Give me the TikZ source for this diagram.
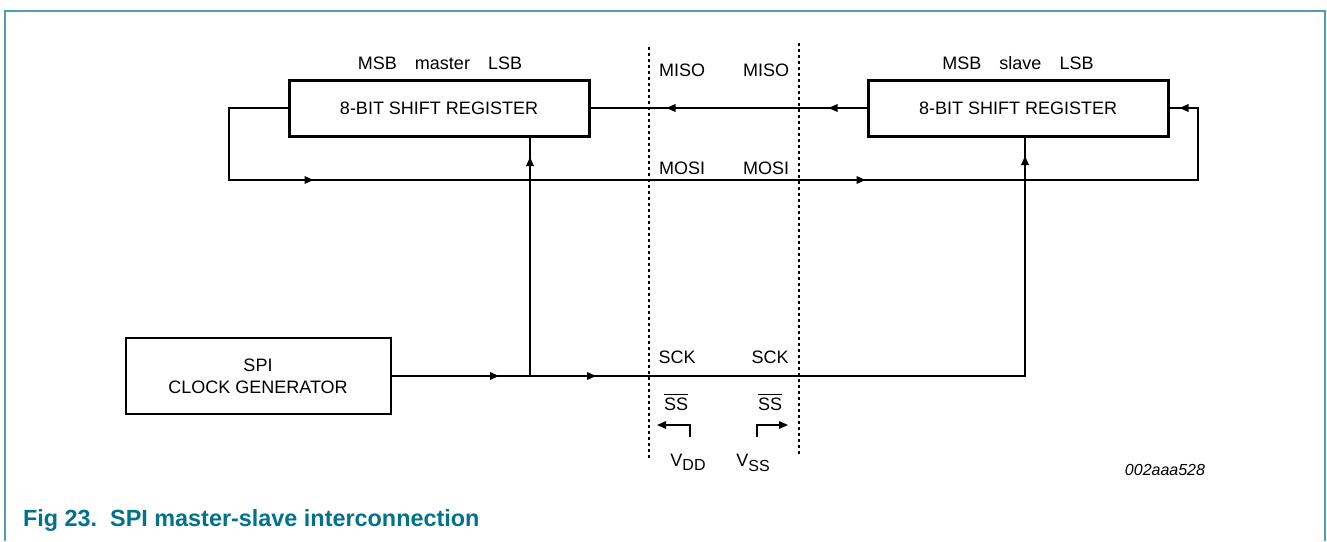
\documentclass[tikz,border=0pt]{standalone}
\usepackage{fontspec}
\setmainfont{Liberation Sans}
\usetikzlibrary{arrows.meta,decorations.markings}
\definecolor{framecol}{RGB}{80,158,178}
\definecolor{capcol}{RGB}{0,114,140}
\newcommand\lowsub[1]{\raisebox{-0.45ex}{\fontsize{8}{10}\selectfont #1}}
\tikzset{
  regbox/.style={draw,line width=1.5pt,minimum width=150pt,minimum height=28pt},
  genbox/.style={draw,line width=1pt,minimum width=132.5pt,minimum height=38pt,align=center},
  wire/.style={line width=0.7pt},
  divider/.style={line width=0.6pt,dash pattern=on 1.5pt off 1.5pt},
  tip/.style={-{Triangle[length=4.5pt,width=3.8pt]}},
  arrowat/.style={postaction={decorate,decoration={markings,mark=at position #1 with {\arrow{Triangle[length=4.5pt,width=3.8pt]}}}}}
}

\begin{document}
\begin{tikzpicture}[x=0.5pt,y=-0.5pt,font=\fontsize{9}{11}\selectfont]
\useasboundingbox (0,0) rectangle (1327,541);
\draw[framecol,line width=0.8pt] (5,541) |- (1325,11) -- (1325,541);

\node[regbox] (master) at (439,108) {8-BIT SHIFT REGISTER};
\node[regbox] (slave) at (1018,108) {8-BIT SHIFT REGISTER};
\node[genbox] (clk) at (258,376) {SPI\\CLOCK GENERATOR};
\node (masterlbl) at (440,63) {MSB\quad master\quad LSB};
\node (slavelbl) at (1018,63) {MSB\quad slave\quad LSB};

\draw[divider] (649,47) -- (649,460);
\draw[divider] (799,43) -- (799,456);

\node (misoM) at (682,70) {MISO};
\node (misoS) at (766,70) {MISO};
\node (mosiM) at (682,168) {MOSI};
\node (mosiS) at (766,168) {MOSI};
\node (sckM) at (677,357) {SCK};
\node (sckS) at (770,357) {SCK};
\node (ssM) at (676,402) {$\overline{\mbox{SS}}$};
\node (ssS) at (770,402) {$\overline{\mbox{SS}}$};
\node (vdd) at (688,462) {V\lowsub{DD}};
\node (vss) at (753,463) {V\lowsub{SS}};

\coordinate (mosiL) at (229,180);
\coordinate (mosiR) at (1198,180);
\coordinate (clkM) at (530,376);
\coordinate (clkS) at (1025,376);
\coordinate (vddpin) at (690,437);
\coordinate (vsspin) at (757,437);

\draw[wire,arrowat=19pt,arrowat=100pt] (slave.west) -- (master.east);
\draw[wire,arrowat=107.5pt,arrowat=383.5pt,arrowat=595pt] (master.west) -| (mosiL) -- (mosiR) |- (slave.east);
\draw[wire,arrowat=109.5pt] (clkM) -- (clkM |- master.south);
\draw[wire,arrowat=53.75pt,arrowat=102.25pt,arrowat=426.75pt] (clk.east) -- (clkS) -- (clkS |- slave.south);
\draw[wire,tip] (vddpin) -- ++(0,-12) -- ++(-33,0);
\draw[wire,tip] (vsspin) -- ++(0,-12) -- ++(31,0);

\node[font=\fontsize{8}{10}\selectfont\itshape] (figid) at (1165,470) {002aaa528};
\node[anchor=west,text=capcol,font=\fontsize{11.7}{14}\selectfont\bfseries] (caption) at (16,520) {Fig 23.\ \ SPI master-slave interconnection};
\end{tikzpicture}
\end{document}
